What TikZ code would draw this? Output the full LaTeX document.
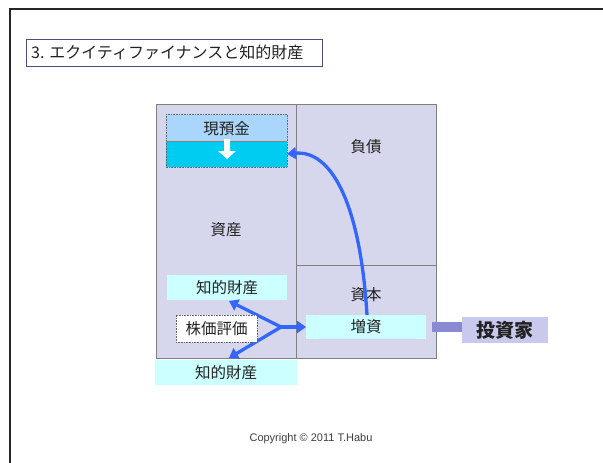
\documentclass[tikz,border=0pt]{standalone}
\usepackage{fontspec}
\newfontfamily\jp{Noto Sans CJK JP}
\newfontfamily\lat{Liberation Sans}
\usetikzlibrary{arrows.meta}
\definecolor{lav}{HTML}{D6D6EC}
\definecolor{edge}{HTML}{808080}
\definecolor{lcyan}{HTML}{CCFFFF}
\definecolor{cashtop}{HTML}{A9D6FA}
\definecolor{cashbot}{HTML}{00CCF2}
\definecolor{arrblue}{HTML}{3366FF}
\definecolor{invfill}{HTML}{C9C9EE}
\definecolor{barcol}{HTML}{8A8AD4}
\definecolor{txt}{HTML}{222222}
\tikzset{
  region/.style={draw=edge, fill=lav, line width=0.8pt, inner sep=0pt, outer sep=0pt},
  cyanbox/.style={fill=lcyan, draw=none, inner sep=0pt, outer sep=0pt, font=\jp\fontsize{15.5}{15.5}\selectfont, text=txt},
  lbl/.style={inner sep=0pt, font=\jp\fontsize{15.5}{15.5}\selectfont, text=txt},
  bluearrow/.style={draw=arrblue, line width=3.3pt, -{Triangle[length=9pt,width=12pt]}},
}
\begin{document}
\begin{tikzpicture}[x=1pt,y=-1pt]
\useasboundingbox (0,0) rectangle (603,463);
\fill[white] (0,0) rectangle (603,463);
% outer frame lines
\draw[line width=2pt, black!85] (10,463) -- (10,9) -- (603,9);
% title
\node[draw=black!45!blue!40!gray, line width=0.8pt, fill=white, minimum width=296pt, minimum height=27pt, inner sep=0pt] (title) at (174,52.5) {};
\node[anchor=west, inner sep=0pt, font=\jp\fontsize{16}{16}\selectfont, text=txt] (titletext) at (31,52.5) {3. エクイティファイナンスと知的財産};
% balance sheet regions
\node[region, minimum width=140pt, minimum height=254pt] (assets) at (226,231) {};
\node[region, minimum width=140pt, minimum height=161pt] (debt) at (366,184.5) {};
\node[region, minimum width=140pt, minimum height=93pt] (capital) at (366,311.5) {};
% cash boxes
\node[fill=cashtop, inner sep=0pt, outer sep=0pt, minimum width=121pt, minimum height=27pt] (cashtop) at (226.5,127.5) {};
\node[fill=cashbot, inner sep=0pt, outer sep=0pt, minimum width=121pt, minimum height=26pt] (cashbot) at (226.5,154) {};
\draw[black!60, densely dotted, line width=0.6pt] (cashtop.north west) rectangle (cashbot.south east);
\draw[black!50, line width=0.6pt] (cashtop.south west) -- (cashtop.south east);
\node[lbl] (cashlbl) at (226.5,128.5) {現預金};
\fill[white] (224,139) -- (230,139) -- (230,151) -- (236,151) -- (227,159) -- (218,151) -- (224,151) -- cycle;
% labels
\node[lbl] (assetlbl) at (226,230) {資産};
\node[lbl] (debtlbl) at (366,147) {負債};
\node[lbl] (caplbl) at (366,295) {資本};
% cyan boxes
\node[cyanbox, minimum width=120pt, minimum height=25pt] (ip1) at (227,287.5) {知的財産};
\node[cyanbox, minimum width=142pt, minimum height=25pt] (ip2) at (226,372.5) {知的財産};
\node[cyanbox, minimum width=120pt, minimum height=24pt] (zoushi) at (366,327) {増資};
% investor
\node[fill=invfill, inner sep=0pt, outer sep=0pt, minimum width=86pt, minimum height=26pt, font=\jp\bfseries\fontsize{19}{19}\selectfont, text=txt] (investor) at (505,330) {投資家};
\fill[barcol] (432,322) rectangle (investor.west |- 0,332);
% fan arrows from stock valuation
\coordinate (v) at (281,327);
\draw[bluearrow] (v) -- (zoushi.west);
\draw[bluearrow] (v) -- (229,301);
\draw[bluearrow] (v) -- (229,358);
% stock valuation box
\node[fill=white, draw=black!60, densely dotted, line width=0.6pt, inner sep=0pt, minimum width=81pt, minimum height=27pt, font=\jp\fontsize{15.5}{15.5}\selectfont, text=txt] (kabuka) at (216.5,328.5) {株価評価};
% curved arrow from capital increase to cash
\draw[bluearrow] (zoushi.north) ++(1,0) .. controls (360,200) and (330,150) .. (cashbot.east);
% copyright
\node[inner sep=0pt, font=\lat\fontsize{11}{11}\selectfont, text=black!75] (copy) at (311,439) {Copyright © 2011 T.Habu};
\end{tikzpicture}
\end{document}
